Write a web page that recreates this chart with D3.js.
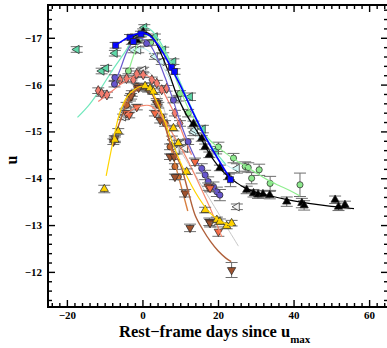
<!DOCTYPE html>
<html>
<head>
<meta charset="utf-8">
<script src="https://cdn.jsdelivr.net/npm/d3@7"></script>
<style>
body { margin: 0; background: #fff; }
text { font-family: "Liberation Serif", serif; font-weight: bold; }
</style>
</head>
<body>
<div id="chart"></div>
<script>
let width = 387, height = 348;

// x ticks / y ticks
let xMajor = [-20, 0, 20, 40, 60];
let yMajor = [-17, -16, -15, -14, -13, -12];

// blue squares
let blueDays = [-7.1, -3.3, -2.4, -0.4, 7.7, 8.5, 23.3];
let blueMags = [-16.84, -17.01, -16.92, -17.08, -16.37, -16.28, -13.97];
let blueErrs = [0.06, 0.06, 0.06, 0.06, 0.06, 0.06, 0.15];
let blueFitDays = [-7.3, -5, -3, -1, 0.5, 2, 4, 6, 8, 10, 13, 16, 19, 22, 23.5];
let blueFitMags = [-16.83, -16.95, -17.04, -17.09, -17.1, -17.04, -16.86, -16.6, -16.3, -15.99, -15.47, -14.98, -14.55, -14.15, -13.97];

// black triangles
let blackDays = [-2.8, -1.5, 0.2, 13.5, 15.7, 16.6, 17.7, 20.5, 22.9, 27.6, 29.4, 30.6, 31.9, 33.7, 38.2, 42.2, 42.8, 51.0, 51.9, 53.6];
let blackMags = [-16.92, -16.95, -17.13, -15.16, -14.85, -14.67, -14.5, -14.22, -14.03, -13.75, -13.68, -13.65, -13.66, -13.64, -13.5, -13.47, -13.42, -13.54, -13.39, -13.43];
let blackErrs = [0.06, 0.06, 0.06, 0.06, 0.06, 0.06, 0.06, 0.06, 0.06, 0.08, 0.08, 0.08, 0.08, 0.08, 0.1, 0.1, 0.1, 0.08, 0.08, 0.08];
let blackFitDays = [-3, -1.5, 0, 1.5, 3, 5, 7, 9, 11, 13, 15, 17, 19, 21, 23, 25, 27, 30, 34, 38, 42, 46, 50, 54, 56];
let blackFitMags = [-16.98, -17.07, -17.12, -17.1, -16.97, -16.65, -16.25, -15.8, -15.45, -15.18, -14.93, -14.62, -14.37, -14.17, -14.02, -13.9, -13.8, -13.7, -13.62, -13.55, -13.49, -13.44, -13.4, -13.37, -13.35];

// aquamarine left triangles
let aquaDays = [-17.4, -10.8, -9.6, -7.3, -1.7, 0.5, 3.3, 5.5, 8.2, 12.6, 16.0, 19.5];
let aquaMags = [-16.75, -16.29, -16.35, -16.67, -17.02, -17.22, -17.02, -16.74, -16.49, -15.74, -15.05, -14.6];
let aquaErrs = [0.06, 0.06, 0.06, 0.06, 0.06, 0.06, 0.06, 0.06, 0.06, 0.08, 0.08, 0.08];
let aquaFitDays = [-17.2, -14, -11, -8, -5, -3, -1, 0.5, 2, 4, 6, 8, 10, 13, 16, 19, 22];
let aquaFitMags = [-15.3, -15.58, -15.92, -16.3, -16.65, -16.9, -17.12, -17.22, -17.18, -17.0, -16.72, -16.4, -16.05, -15.5, -15.0, -14.6, -14.3];

// light green circles
let greenDays = [-3.7, -0.8, 2.2, 9.95, 12.1, 20.1, 24.1, 27.2, 28.0, 28.9, 30.9, 33.8, 41.7];
let greenMags = [-16.29, -16.95, -16.9, -15.81, -15.39, -14.67, -14.43, -14.25, -14.23, -14.0, -14.18, -13.89, -13.86];
let greenErrs = [0.06, 0.06, 0.06, 0.06, 0.08, 0.1, 0.1, 0.1, 0.1, 0.12, 0.12, 0.15, 0.25];
let greenFitDays = [-3.7, -2, -0.5, 1, 3, 5, 7, 9, 11, 13, 15, 18, 21, 24, 27, 30, 33, 36, 39, 41.7];
let greenFitMags = [-16.28, -16.7, -16.98, -17.05, -17.0, -16.8, -16.5, -16.1, -15.7, -15.35, -15.1, -14.8, -14.6, -14.42, -14.27, -14.12, -13.97, -13.85, -13.74, -13.62];

// slate blue circles
let slateDays = [-7.3, -7.4, 1.1, 8.2, 12.1, 15.7, 16.6, 17.4, 18.8, 19.7, 20.5];
let slateMags = [-16.15, -16.01, -16.88, -15.67, -14.78, -14.21, -14.07, -13.93, -13.82, -13.71, -13.64];
let slateErrs = [0.06, 0.06, 0.06, 0.06, 0.06, 0.1, 0.1, 0.1, 0.1, 0.1, 0.12];
let slateFitDays = [-7.5, -6, -4, -2, 0, 2, 4, 6, 8, 10, 12, 14, 16, 18, 20.5];
let slateFitMags = [-16.0, -16.3, -16.72, -16.95, -16.98, -16.85, -16.55, -16.15, -15.7, -15.2, -14.78, -14.42, -14.12, -13.87, -13.62];

// salmon diamonds
let salmonDays = [-11.7, -10.8, -9.4, -5.9, -4.2, -2.4, -1.5, 0.2, 2.5, 3.8, 5.1, 6.4, 8.6, 9.95];
let salmonMags = [-15.87, -15.81, -15.78, -16.1, -16.13, -16.1, -16.23, -16.21, -16.1, -16.03, -15.89, -15.92, -15.39, -15.17];
let salmonErrs = [0.06, 0.06, 0.06, 0.06, 0.06, 0.06, 0.06, 0.06, 0.06, 0.06, 0.06, 0.06, 0.06, 0.06];
let salmonFitDays = [-11.7, -9, -7, -5, -3, -1, 1, 3, 5, 7, 9, 11, 13];
let salmonFitMags = [-15.64, -15.8, -15.93, -16.05, -16.15, -16.2, -16.2, -16.1, -15.92, -15.62, -15.3, -14.88, -14.5];

// chocolate circles
let chocDays = [-4.2, -3.3, -2.8, -1.5, -0.2, 1.1, 3.8, 4.2, 5.1, 6.0, 7.3, 7.8, 8.6, 9.5];
let chocMags = [-15.56, -15.71, -15.81, -15.96, -15.96, -15.92, -15.64, -15.56, -15.31, -15.17, -14.67, -14.46, -14.25, -14.03];
let chocErrs = [0.06, 0.06, 0.06, 0.06, 0.06, 0.06, 0.06, 0.06, 0.06, 0.06, 0.06, 0.06, 0.06, 0.06];
let chocFitDays = [-5, -3, -1, 0.5, 2, 4, 6, 8, 10, 12];
let chocFitMags = [-15.55, -15.82, -15.95, -15.97, -15.9, -15.6, -15.15, -14.5, -13.9, -13.3];

// gold up triangles
let goldDays = [-10.1, -7.3, -6.4, 0.7, 2.0, 2.9, 8.2, 9.5, 11.7, 16.6, 19.7, 20.5, 22.3, 23.6];
let goldMags = [-13.77, -14.82, -15.0, -15.97, -15.92, -15.85, -15.07, -14.75, -14.14, -13.32, -13.11, -13.07, -12.98, -13.04];
let goldErrs = [0.08, 0.06, 0.06, 0.06, 0.06, 0.06, 0.06, 0.06, 0.06, 0.06, 0.06, 0.06, 0.06, 0.06];
let goldFitDays = [-9.6, -8, -6, -4, -2, 0, 2, 4, 6, 8, 10, 12, 14, 16, 18, 20, 22, 24];
let goldFitMags = [-14.05, -14.7, -15.4, -15.75, -15.9, -15.97, -15.9, -15.6, -15.2, -14.75, -14.35, -14.0, -13.7, -13.45, -13.25, -13.12, -13.03, -12.98];

// sienna down triangles
let siennaDays = [-7.7, -7.3, -3.0, -1.0, 1.5, 3.8, 4.7, 7.3, 8.4, 8.6, 11.3, 12.6, 17.7, 17.9, 23.6];
let siennaMags = [-14.78, -14.85, -15.75, -15.93, -15.9, -15.6, -15.24, -14.46, -14.46, -14.03, -13.68, -12.94, -13.07, -13.04, -12.04];
let siennaErrs = [0.06, 0.06, 0.06, 0.06, 0.06, 0.06, 0.06, 0.06, 0.06, 0.06, 0.08, 0.08, 0.08, 0.08, 0.16];
let siennaFitDays = [-8, -6, -4, -2, 0, 2, 4, 6, 8, 10, 12, 14, 16, 18, 20, 22, 23.5];
let siennaFitMags = [-14.7, -15.2, -15.6, -15.85, -15.95, -15.85, -15.55, -15.1, -14.6, -14.3, -13.75, -13.2, -12.9, -12.65, -12.45, -12.3, -12.22];

// tomato down triangles
let tomatoDays = [-4.2, -3.5, -1.5, 3.3, 13.9, 17.4, 17.9, 20.1];
let tomatoMags = [-15.39, -15.35, -15.52, -15.39, -14.35, -13.82, -13.79, -12.86];
let tomatoErrs = [0.06, 0.06, 0.06, 0.06, 0.08, 0.08, 0.08, 0.1];
let tomatoFitDays = [-4.5, -2, 0, 2, 4, 6, 8, 10, 12, 14, 16, 18, 20, 21];
let tomatoFitMags = [-15.35, -15.5, -15.55, -15.55, -15.42, -15.22, -14.95, -14.68, -14.38, -14.05, -13.7, -13.35, -12.95, -12.75];

// pale cyan left triangles
let cyanDays = [-2.4, -1.1, 3.3, 5.1, 9.5, 13.5, 13.9, 25.0];
let cyanMags = [-16.74, -16.74, -16.6, -16.49, -15.71, -14.99, -15.03, -14.21];
let cyanErrs = [0.06, 0.06, 0.06, 0.06, 0.06, 0.08, 0.08, 0.1];
let cyanFitDays = [-3, 0, 3, 6, 9, 12, 15, 18, 21, 24, 25];
let cyanFitMags = [-16.72, -16.78, -16.62, -16.3, -15.82, -15.3, -14.85, -14.55, -14.35, -14.2, -14.18];

// white left triangles
let whiteDays = [-5.1, -4.6, -3.7, -0.2, 0.2, 7.8, 9.1, 10.4, 10.8, 11.3, 25.0];
let whiteMags = [-15.31, -15.42, -15.46, -16.28, -16.31, -14.82, -14.6, -14.71, -14.75, -14.64, -13.39];
let whiteErrs = [0.06, 0.06, 0.06, 0.06, 0.06, 0.08, 0.08, 0.08, 0.08, 0.08, 0.06];
let whiteFitDays = [-5, -2, 0, 2, 4, 6, 8, 10, 13, 16, 19, 22, 25.4];
let whiteFitMags = [-15.3, -15.95, -16.3, -16.25, -15.9, -15.4, -14.95, -14.6, -14.2, -13.8, -13.4, -13.0, -12.55];

let series = [
    {d: whiteDays, m: whiteMags, e: whiteErrs, fd: whiteFitDays, fm: whiteFitMags, sym: "left", fill: "#f4f4f4", line: "#c8c8c8", lw: 1},
    {d: cyanDays, m: cyanMags, e: cyanErrs, fd: cyanFitDays, fm: cyanFitMags, sym: "left", fill: "#d8f8f8", line: "#b8eeee", lw: 1},
    {d: aquaDays, m: aquaMags, e: aquaErrs, fd: aquaFitDays, fm: aquaFitMags, sym: "left", fill: "#5fd8a8", line: "#70e8bc", lw: 1.2},
    {d: greenDays, m: greenMags, e: greenErrs, fd: greenFitDays, fm: greenFitMags, sym: "circle", fill: "#8de88d", line: "#90ee90", lw: 1.2},
    {d: salmonDays, m: salmonMags, e: salmonErrs, fd: salmonFitDays, fm: salmonFitMags, sym: "diamond", fill: "#f27c6e", line: "#f58070", lw: 1.2},
    {d: slateDays, m: slateMags, e: slateErrs, fd: slateFitDays, fm: slateFitMags, sym: "circle", fill: "#6655cc", line: "#6a5acd", lw: 1.2},
    {d: chocDays, m: chocMags, e: chocErrs, fd: chocFitDays, fm: chocFitMags, sym: "circle", fill: "#c9652a", line: "#d88040", lw: 1.4},
    {d: siennaDays, m: siennaMags, e: siennaErrs, fd: siennaFitDays, fm: siennaFitMags, sym: "down", fill: "#a0522d", line: "#b0603a", lw: 1.4},
    {d: tomatoDays, m: tomatoMags, e: tomatoErrs, fd: tomatoFitDays, fm: tomatoFitMags, sym: "down", fill: "#f46a45", line: "#f48a70", lw: 1.2},
    {d: goldDays, m: goldMags, e: goldErrs, fd: goldFitDays, fm: goldFitMags, sym: "up", fill: "#ffd200", line: "#ffd400", lw: 1.2},
    {d: blackDays, m: blackMags, e: blackErrs, fd: blackFitDays, fm: blackFitMags, sym: "up", fill: "#000", line: "#000", lw: 1.2},
    {d: blueDays, m: blueMags, e: blueErrs, fd: blueFitDays, fm: blueFitMags, sym: "square", fill: "#0a0aff", line: "#0000ff", lw: 1.6}
];

let svg = d3.select("#chart").append("svg")
    .attr("width", width)
    .attr("height", height);

let plotLeft = 48, plotTop = 5, plotRight = 388, plotBottom = 307;

let x = d3.scaleLinear().domain([-25, 65]).range([plotLeft, plotRight]);
let y = d3.scaleLinear().domain([-17.7, -11.25]).range([plotTop, plotBottom]);

svg.append("clipPath").attr("id", "plotArea")
    .append("rect")
    .attr("x", plotLeft).attr("y", plotTop)
    .attr("width", plotRight - plotLeft).attr("height", plotBottom - plotTop);

let plot = svg.append("g").attr("clip-path", "url(#plotArea)");

let shape = {
    circle: [d3.symbolCircle, 30, 0],
    square: [d3.symbolSquare, 36, 0],
    diamond: [d3.symbolDiamond, 30, 0],
    up: [d3.symbolTriangle, 30, 0],
    down: [d3.symbolTriangle, 30, 180],
    left: [d3.symbolTriangle, 30, -90]
};

let line = d3.line()
    .x(d => x(d[0]))
    .y(d => y(d[1]))
    .curve(d3.curveCatmullRom);

series.forEach(s => {
    let pts = s.d.map((d, i) => ({day: d, mag: s.m[i], err: s.e[i]}));
    let g = plot.append("g");

    // error bars
    let eb = g.selectAll(".eb").data(pts).enter().append("g")
        .attr("stroke", "#6e6e6e").attr("stroke-width", 1);
    eb.append("line")
        .attr("x1", d => x(d.day)).attr("x2", d => x(d.day))
        .attr("y1", d => y(d.mag - d.err)).attr("y2", d => y(d.mag + d.err));
    eb.append("line")
        .attr("x1", d => x(d.day) - 6).attr("x2", d => x(d.day) + 6)
        .attr("y1", d => y(d.mag - d.err)).attr("y2", d => y(d.mag - d.err));
    eb.append("line")
        .attr("x1", d => x(d.day) - 6).attr("x2", d => x(d.day) + 6)
        .attr("y1", d => y(d.mag + d.err)).attr("y2", d => y(d.mag + d.err));

    // markers
    let sh = shape[s.sym];
    g.selectAll(".pt").data(pts).enter().append("path")
        .attr("d", d3.symbol().type(sh[0]).size(sh[1]))
        .attr("transform", d => "translate(" + x(d.day) + "," + y(d.mag) + ") rotate(" + sh[2] + ")")
        .attr("fill", s.fill)
        .attr("stroke", "#222")
        .attr("stroke-width", 0.7);

    // fit curve
    g.append("path")
        .datum(s.fd.map((d, i) => [d, s.fm[i]]))
        .attr("fill", "none")
        .attr("stroke", s.line)
        .attr("stroke-width", s.lw)
        .attr("d", line);
});

// axes, ticks pointing inward on all four sides
let fmt = d => d < 0 ? "\u2212" + (-d) : "" + d;
let xMinor = d3.range(-24, 65, 2).filter(v => xMajor.indexOf(v) < 0);
let yMinor = d3.range(-17.6, -11.25, 0.2).map(v => +v.toFixed(1)).filter(v => yMajor.indexOf(v) < 0);

function styleAxis(g) {
    g.select(".domain").remove();
    g.selectAll("line").attr("stroke", "#000").attr("stroke-width", 1.4);
    g.selectAll("text")
        .attr("font-family", "Liberation Serif, serif")
        .attr("font-weight", "bold")
        .attr("font-size", 11)
        .attr("fill", "#000");
}

function bareAxis(g) {
    g.select(".domain").remove();
    g.selectAll("text").remove();
    g.selectAll("line").attr("stroke", "#000").attr("stroke-width", 1.4);
}

svg.append("g").attr("transform", "translate(0," + plotBottom + ")")
    .call(d3.axisBottom(x).tickValues(xMajor).tickSize(-7).tickPadding(4).tickFormat(fmt))
    .call(styleAxis);
svg.append("g").attr("transform", "translate(0," + plotBottom + ")")
    .call(d3.axisBottom(x).tickValues(xMinor).tickSize(-4))
    .call(bareAxis);
svg.append("g").attr("transform", "translate(0," + plotTop + ")")
    .call(d3.axisTop(x).tickValues(xMajor).tickSize(-7))
    .call(bareAxis);
svg.append("g").attr("transform", "translate(0," + plotTop + ")")
    .call(d3.axisTop(x).tickValues(xMinor).tickSize(-4))
    .call(bareAxis);

svg.append("g").attr("transform", "translate(" + plotLeft + ",0)")
    .call(d3.axisLeft(y).tickValues(yMajor).tickSize(-7).tickPadding(6).tickFormat(fmt))
    .call(styleAxis);
svg.append("g").attr("transform", "translate(" + plotLeft + ",0)")
    .call(d3.axisLeft(y).tickValues(yMinor).tickSize(-4))
    .call(bareAxis);
svg.append("g").attr("transform", "translate(" + plotRight + ",0)")
    .call(d3.axisRight(y).tickValues(yMajor).tickSize(-7))
    .call(bareAxis);
svg.append("g").attr("transform", "translate(" + plotRight + ",0)")
    .call(d3.axisRight(y).tickValues(yMinor).tickSize(-4))
    .call(bareAxis);

// frame
svg.append("rect")
    .attr("x", plotLeft).attr("y", plotTop)
    .attr("width", plotRight - plotLeft).attr("height", plotBottom - plotTop)
    .attr("fill", "none").attr("stroke", "#000").attr("stroke-width", 2);

// axis titles
let xt = svg.append("text")
    .attr("x", 119).attr("y", 337)
    .attr("font-size", 16.5);
xt.append("tspan").text("Rest\u2212frame days since u");
xt.append("tspan").attr("dy", 6).attr("font-size", 11).text("max");

svg.append("text")
    .attr("transform", "translate(17,160) rotate(-90)")
    .attr("text-anchor", "middle")
    .attr("font-size", 16)
    .text("u");
</script>
</body>
</html>
